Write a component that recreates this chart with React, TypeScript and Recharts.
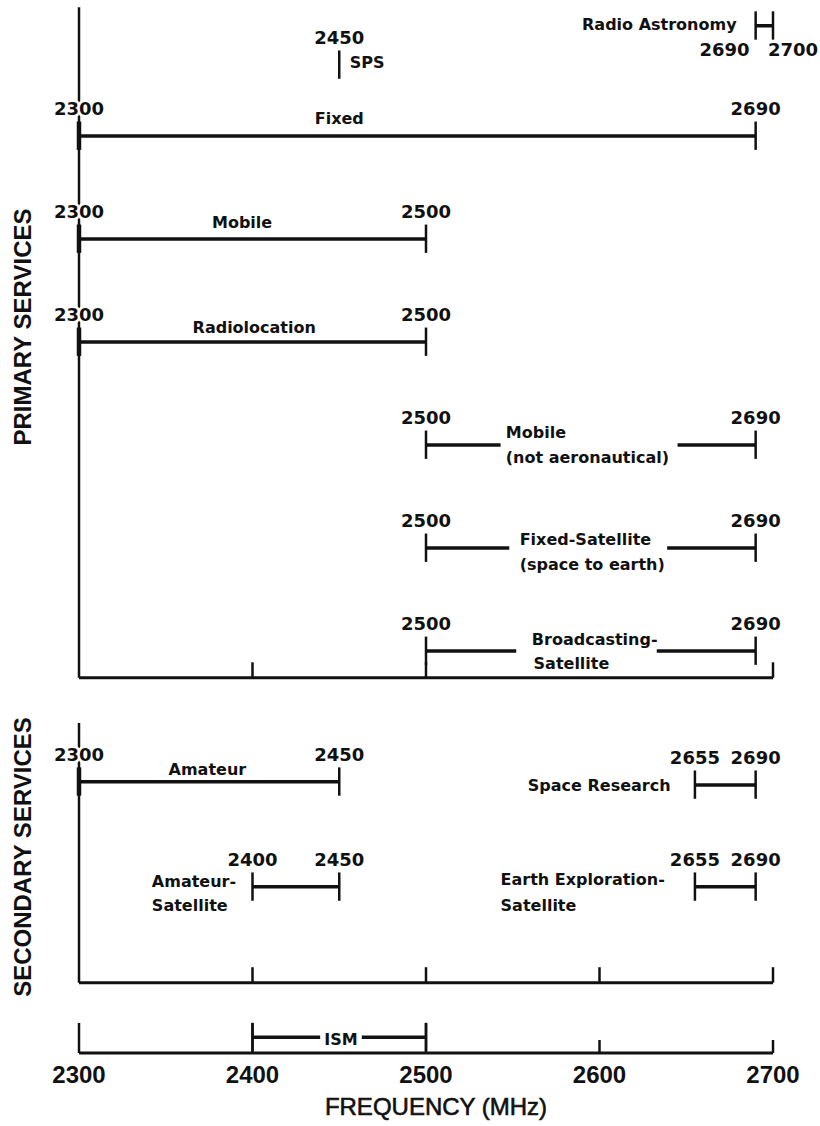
import { ScatterChart, Scatter, XAxis, YAxis, ReferenceLine, ReferenceDot } from 'recharts'

type Band = {
  name: string
  lo: number
  hi: number
  lane: number
  nums: 'above' | 'below' | 'single' | 'none'
}

type Caption = { text: string; f: number; lane: number; anchor: 'start' | 'middle' | 'end' }

const FREQ_TICKS = [2300, 2400, 2500, 2600, 2700]
// lanes: one unit per primary row, top of figure to bottom axis
const LANE_DOMAIN: [number, number] = [-0.32, 9.903]

const primaryBands: Band[] = [
  { name: 'Radio Astronomy', lo: 2690, hi: 2700, lane: -0.07, nums: 'below' },
  { name: 'SPS', lo: 2450, hi: 2450, lane: 0.31, nums: 'single' },
  { name: 'Fixed', lo: 2300, hi: 2690, lane: 1, nums: 'above' },
  { name: 'Mobile', lo: 2300, hi: 2500, lane: 2, nums: 'above' },
  { name: 'Radiolocation', lo: 2300, hi: 2500, lane: 3, nums: 'above' },
  { name: 'Mobile (not aeronautical)', lo: 2500, hi: 2690, lane: 4, nums: 'above' },
  { name: 'Fixed-Satellite', lo: 2500, hi: 2690, lane: 5, nums: 'above' },
  { name: 'Broadcasting-Satellite', lo: 2500, hi: 2690, lane: 6, nums: 'above' },
]

const secondaryBands: Band[] = [
  { name: 'Amateur', lo: 2300, hi: 2450, lane: 7.27, nums: 'above' },
  { name: 'Space Research', lo: 2655, hi: 2690, lane: 7.3, nums: 'above' },
  { name: 'Amateur-Satellite', lo: 2400, hi: 2450, lane: 8.29, nums: 'above' },
  { name: 'Earth Exploration-Satellite', lo: 2655, hi: 2690, lane: 8.29, nums: 'above' },
]

const ismBands: Band[] = [{ name: 'ISM', lo: 2400, hi: 2500, lane: 9.75, nums: 'none' }]

// where the bar is broken to leave room for its caption (MHz)
const barGaps: Record<string, [number, number]> = {
  'Mobile (not aeronautical)': [2543, 2645],
  'Fixed-Satellite': [2548, 2639],
  'Broadcasting-Satellite': [2552, 2633],
  ISM: [2439, 2463],
}

const primaryFrame = { top: -0.25, base: 6.26, ticks: [2400, 2500, 2700] }
const secondaryFrame = { top: 6.7, base: 9.22, ticks: [2400, 2500, 2600, 2700] }
const ismTallTicks = [2300, 2400, 2500]
const ismShortTicks = [2600, 2700]

const captions: Caption[] = [
  { text: 'Radio Astronomy', f: 2679, lane: -0.08, anchor: 'end' },
  { text: 'SPS', f: 2456, lane: 0.28, anchor: 'start' },
  { text: 'Fixed', f: 2450, lane: 0.83, anchor: 'middle' },
  { text: 'Mobile', f: 2394, lane: 1.84, anchor: 'middle' },
  { text: 'Radiolocation', f: 2401, lane: 2.86, anchor: 'middle' },
  { text: 'Mobile', f: 2546, lane: 3.88, anchor: 'start' },
  { text: '(not aeronautical)', f: 2546, lane: 4.12, anchor: 'start' },
  { text: 'Fixed-Satellite', f: 2554, lane: 4.92, anchor: 'start' },
  { text: '(space to earth)', f: 2554, lane: 5.16, anchor: 'start' },
  { text: 'Broadcasting-', f: 2561, lane: 5.89, anchor: 'start' },
  { text: 'Satellite', f: 2562, lane: 6.12, anchor: 'start' },
  { text: 'Amateur', f: 2374, lane: 7.15, anchor: 'middle' },
  { text: 'Space Research', f: 2641, lane: 7.3, anchor: 'end' },
  { text: 'Amateur-', f: 2342, lane: 8.24, anchor: 'start' },
  { text: 'Satellite', f: 2342, lane: 8.47, anchor: 'start' },
  { text: 'Earth Exploration-', f: 2543, lane: 8.22, anchor: 'start' },
  { text: 'Satellite', f: 2543, lane: 8.47, anchor: 'start' },
  { text: 'ISM', f: 2451, lane: 9.77, anchor: 'middle' },
]

const INK = '#111'
const TICK_UP = 0.14
const TICK_DOWN = 0.135
const NUM_ABOVE = 0.262
const NUM_BELOW = 0.233

function seg(key: string, x1: number, y1: number, x2: number, y2: number, w: number) {
  return (
    <ReferenceLine
      key={key}
      segment={[{ x: x1, y: y1 }, { x: x2, y: y2 }]}
      stroke={INK}
      strokeWidth={w}
      ifOverflow="visible"
    />
  )
}

function text(
  key: string,
  value: string,
  f: number,
  lane: number,
  anchor: 'start' | 'middle' | 'end',
  isNum: boolean,
  dx = 0,
) {
  return (
    <ReferenceDot
      key={key}
      x={f}
      y={lane}
      r={0}
      ifOverflow="visible"
      shape={(p: any) => (
        <text
          x={p.cx + dx}
          y={p.cy}
          dy="0.36em"
          textAnchor={anchor}
          fill={INK}
          fontFamily="DejaVu Sans"
          fontWeight={700}
          fontSize={isNum ? 18 : 16}
          stroke={isNum ? '#fff' : 'none'}
          strokeWidth={isNum ? 5 : 0}
          strokeLinejoin="round"
          paintOrder="stroke"
        >
          {value}
        </text>
      )}
    />
  )
}

function bandMarks(b: Band) {
  const out = []
  const gap = barGaps[b.name]
  if (b.hi > b.lo) {
    if (gap) {
      out.push(seg(`${b.name}-a`, b.lo, b.lane, gap[0], b.lane, 3.5))
      out.push(seg(`${b.name}-b`, gap[1], b.lane, b.hi, b.lane, 3.5))
    } else {
      out.push(seg(`${b.name}-bar`, b.lo, b.lane, b.hi, b.lane, 3.5))
    }
  }
  const ends = b.hi > b.lo ? [b.lo, b.hi] : [b.lo]
  ends.forEach((f) =>
    out.push(seg(`${b.name}-t${f}`, f, b.lane - TICK_UP, f, b.lane + TICK_DOWN, f === 2300 ? 4.5 : 2.5)),
  )
  return out
}

function bandNumbers(b: Band) {
  if (b.nums === 'above')
    return [b.lo, b.hi].map((f) => text(`${b.name}-n${f}`, String(f), f, b.lane - NUM_ABOVE, 'middle', true))
  if (b.nums === 'single')
    return [text(`${b.name}-n`, String(b.lo), b.lo, b.lane - NUM_ABOVE, 'middle', true)]
  if (b.nums === 'below')
    return [
      text(`${b.name}-nlo`, String(b.lo), b.lo, b.lane + NUM_BELOW, 'end', true, -6),
      text(`${b.name}-nhi`, String(b.hi), b.hi, b.lane + NUM_BELOW, 'start', true, -5),
    ]
  return []
}

function frameMarks(id: string, frame: { top: number; base: number; ticks: number[] }) {
  return [
    seg(`${id}-v`, 2300, frame.top, 2300, frame.base, 2.5),
    seg(`${id}-h`, 2300, frame.base, 2700, frame.base, 3),
    ...frame.ticks.map((f) => seg(`${id}-t${f}`, f, frame.base - 0.15, f, frame.base, 2.5)),
  ]
}

const allBands = [...primaryBands, ...secondaryBands, ...ismBands]

const sideLabel: React.CSSProperties = {
  position: 'absolute',
  left: 23,
  transform: 'translate(-50%, -50%) rotate(-90deg)',
  whiteSpace: 'nowrap',
  fontFamily: 'Liberation Sans',
  fontWeight: 700,
  fontSize: 24,
  color: INK,
}

export default function App() {
  const base = LANE_DOMAIN[1]
  return (
    <div style={{ position: 'relative', width: 820, height: 1126, background: '#fff' }}>
      <style>{'body{margin:0}'}</style>
      <ScatterChart width={820} height={1126} margin={{ top: 0, right: 47, bottom: 0, left: 79 }}>
        <XAxis
          type="number"
          dataKey="f"
          domain={[2300, 2700]}
          allowDataOverflow
          ticks={FREQ_TICKS}
          interval={0}
          tickLine={false}
          tickMargin={7}
          height={73}
          axisLine={{ stroke: INK, strokeWidth: 3 }}
          tick={{ fill: INK, fontSize: 24, fontWeight: 700, fontFamily: 'Liberation Sans' }}
          label={{
            value: 'FREQUENCY (MHz)',
            position: 'insideBottom',
            offset: 11,
            dx: 10,
            fill: INK,
            stroke: INK,
            strokeWidth: 0.6,
            fontSize: 24,
            fontFamily: 'Liberation Sans',
          }}
        />
        <YAxis type="number" dataKey="lane" domain={LANE_DOMAIN} allowDataOverflow reversed hide />
        <Scatter
          data={allBands.map((b) => ({ f: b.lo, lane: b.lane }))}
          isAnimationActive={false}
          shape={() => <g />}
        />
        {frameMarks('primary', primaryFrame)}
        {frameMarks('secondary', secondaryFrame)}
        {ismTallTicks.map((f) => seg(`ism-tall${f}`, f, 9.612, f, base, 2.5))}
        {ismShortTicks.map((f) => seg(`ism-short${f}`, f, 9.777, f, base, 2.5))}
        {allBands.flatMap(bandMarks)}
        {allBands.flatMap(bandNumbers)}
        {captions.map((c, i) => text(`cap${i}`, c.text, c.f, c.lane, c.anchor, false))}
      </ScatterChart>
      <div style={{ ...sideLabel, top: 327 }}>PRIMARY SERVICES</div>
      <div style={{ ...sideLabel, top: 857 }}>SECONDARY SERVICES</div>
    </div>
  )
}
